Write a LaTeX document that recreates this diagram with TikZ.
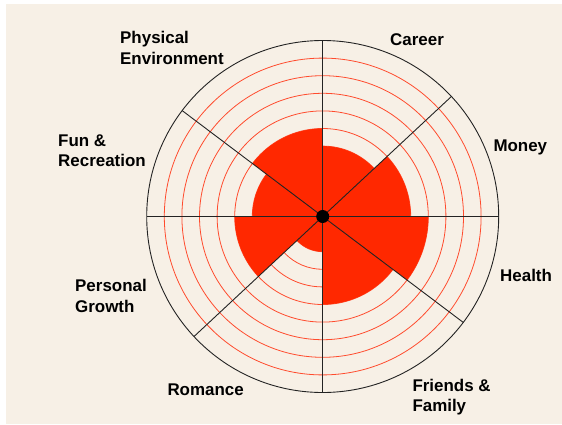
\documentclass[tikz,border=0pt]{standalone}
\usepackage{fontspec}
\setmainfont{Liberation Sans}
\definecolor{paper}{RGB}{247,240,230}
\definecolor{wheelred}{RGB}{255,40,0}
\definecolor{ringred}{RGB}{255,75,45}
\definecolor{spoke}{RGB}{35,35,35}
\begin{document}
\begin{tikzpicture}[x=1bp,y=1bp,
    area/.style={font=\bfseries\fontsize{17}{20.7}\selectfont, anchor=base west, align=left, inner sep=0pt}]
  \useasboundingbox (0,0) rectangle (562,424);
  \fill[white] (0,0) rectangle (562,424);
  \fill[paper] (6,0) rectangle (562,420);
  \coordinate (hub) at (322.7,207.5);
  % rings
  \foreach \k in {1,...,9}
    \draw[ringred, line width=0.8pt] (hub) circle[radius=17.6*\k];
  % scores
  \foreach \a/\b/\s in {0/43/5, 43/90/4, 90/143/5, 143/180/4, 180/223/5, 223/270/2, 270/323/5, 323/360/6}
    \fill[wheelred] (hub) -- ++(\a:17.6*\s) arc[start angle=\a, end angle=\b, radius=17.6*\s] -- cycle;
  % spokes
  \foreach \a in {0,43,90,143,180,223,270,323}
    \draw[spoke, line width=0.9pt] (hub) -- ++(\a:176);
  \draw[spoke, line width=0.9pt] (hub) circle[radius=176];
  \fill[black] (hub) circle[radius=6.5];
  % labels (two-line ones sit on their last line)
  \node[area] (career) at (390,379) {Career};
  \node[area] (money) at (493.3,272.3) {Money};
  \node[area] (health) at (500,142.3) {Health};
  \node[area] (friends) at (412.3,12.3) {Friends \&\\Family};
  \node[area] (romance) at (167.3,29) {Romance};
  \node[area] (growth) at (75,111.6) {Personal\\Growth};
  \node[area] (fun) at (58,257.3) {Fun \&\\Recreation};
  \node[area] (environment) at (120,360) {Physical\\Environment};
\end{tikzpicture}
\end{document}
